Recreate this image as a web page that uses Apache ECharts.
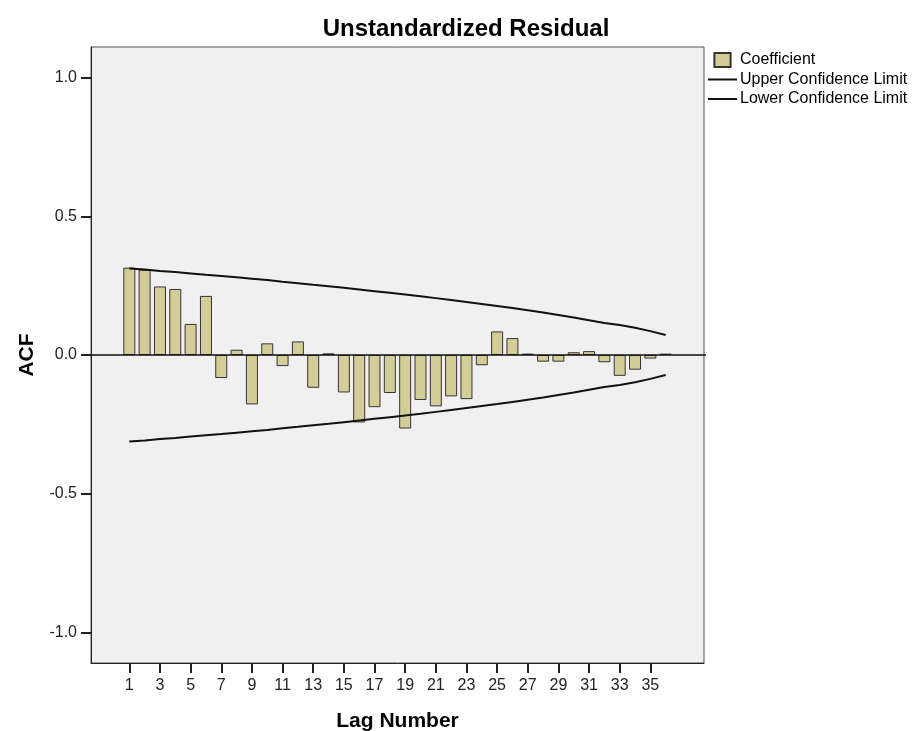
<!DOCTYPE html>
<html>
<head>
<meta charset="utf-8">
<script src="https://cdn.jsdelivr.net/npm/echarts@6/dist/echarts.min.js"></script>
<style>
html,body{margin:0;padding:0;background:#fff;}
#c{width:915px;height:731px;}
</style>
</head>
<body>
<div id="c"></div>
<script>
const lags = [1,2,3,4,5,6,7,8,9,10,11,12,13,14,15,16,17,18,19,20,21,22,23,24,25,26,27,28,29,30,31,32,33,34,35,36];
const coefficient = [0.315,0.307,0.247,0.238,0.112,0.213,-0.083,0.019,-0.178,0.042,-0.040,0.049,-0.118,0.006,-0.135,-0.243,-0.188,-0.137,-0.265,-0.162,-0.185,-0.149,-0.159,-0.037,0.085,0.061,0.005,-0.024,-0.024,0.010,0.014,-0.026,-0.075,-0.053,-0.013,0.005];
const upperLimit = [0.312,0.308,0.303,0.299,0.294,0.289,0.285,0.280,0.275,0.270,0.264,0.259,0.253,0.248,0.242,0.236,0.230,0.224,0.218,0.212,0.205,0.198,0.191,0.184,0.177,0.169,0.161,0.153,0.144,0.135,0.125,0.115,0.108,0.098,0.086,0.072];
const lowerLimit = [-0.312,-0.308,-0.303,-0.299,-0.294,-0.289,-0.285,-0.280,-0.275,-0.270,-0.264,-0.259,-0.253,-0.248,-0.242,-0.236,-0.230,-0.224,-0.218,-0.212,-0.205,-0.198,-0.191,-0.184,-0.177,-0.169,-0.161,-0.153,-0.144,-0.135,-0.125,-0.115,-0.108,-0.098,-0.086,-0.072];
const xTicks = [1,3,5,7,9,11,13,15,17,19,21,23,25,27,29,31,33,35];
const yTicks = [-1,-0.5,0,0.5,1];
const titleText = 'Unstandardized Residual';
const xName = 'Lag Number';
const yName = 'ACF';

const chart = echarts.init(document.getElementById('c'), null, {renderer:'canvas'});
const fam = '"Liberation Sans", Arial, sans-serif';
const lineIcon = 'path://M0,0L29,0L29,2L0,2Z';
const option = {
  animation:false,
  backgroundColor:'#ffffff',
  graphic:[{
    type:'text', x:466, y:29,
    style:{text:titleText, align:'center', verticalAlign:'middle', font:'bold 24px "Liberation Sans", Arial, sans-serif', fill:'#000'}
  }],
  legend:{
    orient:'vertical', left:708, top:52, padding:0,
    itemWidth:29, itemHeight:14, itemGap:3.5,
    textStyle:{fontFamily:fam, fontSize:16, color:'#000', padding:[0,0,0,-2]},
    data:[
      {name:'Coefficient', icon:'path://M0,0L11,0L11,9.5L0,9.5Z'},
      {name:'Upper Confidence Limit', icon:lineIcon},
      {name:'Lower Confidence Limit', icon:lineIcon}
    ]
  },
  grid:{left:91, right:211, top:47, bottom:68, containLabel:false, outerBoundsMode:'none',
    show:true, backgroundColor:'#f0f0f0', borderColor:'#555', borderWidth:1},
  xAxis:{
    type:'value', min:-1.5, max:38.5,
    name:xName, nameLocation:'middle', nameGap:47.5,
    nameTextStyle:{fontFamily:fam, fontSize:21, fontWeight:'bold', color:'#000'},
    axisLine:{show:true, onZero:false, lineStyle:{color:'#222', width:1}},
    axisTick:{show:true, length:10, customValues:xTicks, lineStyle:{color:'#222', width:2}},
    axisLabel:{customValues:xTicks, margin:15, fontFamily:fam, fontSize:16, color:'#222'},
    splitLine:{show:false}
  },
  yAxis:{
    type:'value', min:-1.11, max:1.11,
    name:yName, nameLocation:'middle', nameGap:53, nameRotate:90,
    nameTextStyle:{fontFamily:fam, fontSize:21, fontWeight:'bold', color:'#000'},
    axisLine:{show:true, onZero:false, lineStyle:{color:'#222', width:1}},
    axisTick:{show:true, length:10, customValues:yTicks, lineStyle:{color:'#222', width:2}},
    axisLabel:{customValues:yTicks, margin:14, fontFamily:fam, fontSize:16, color:'#222',
      formatter:function(v){return v.toFixed(1);}},
    splitLine:{show:false}
  },
  series:[
    {
      name:'Coefficient', type:'bar', barWidth:12,
      data:lags.map((l,i)=>[l, coefficient[i]]),
      itemStyle:{color:'#d3ce97', borderColor:'#333', borderWidth:1},
      z:3
    },
    {
      name:'zero', type:'line', clip:false, symbol:'none', silent:true,
      data:[[-1.5,0],[39.1,0]],
      lineStyle:{color:'#111', width:1.5}, z:4
    },
    {
      name:'Upper Confidence Limit', type:'line', symbol:'none', smooth:false,
      data:lags.map((l,i)=>[l, upperLimit[i]]),
      lineStyle:{color:'#111', width:2}, itemStyle:{color:'#111'}, z:5
    },
    {
      name:'Lower Confidence Limit', type:'line', symbol:'none', smooth:false,
      data:lags.map((l,i)=>[l, lowerLimit[i]]),
      lineStyle:{color:'#111', width:2}, itemStyle:{color:'#111'}, z:5
    }
  ]
};
chart.setOption(option);
</script>
</body>
</html>
